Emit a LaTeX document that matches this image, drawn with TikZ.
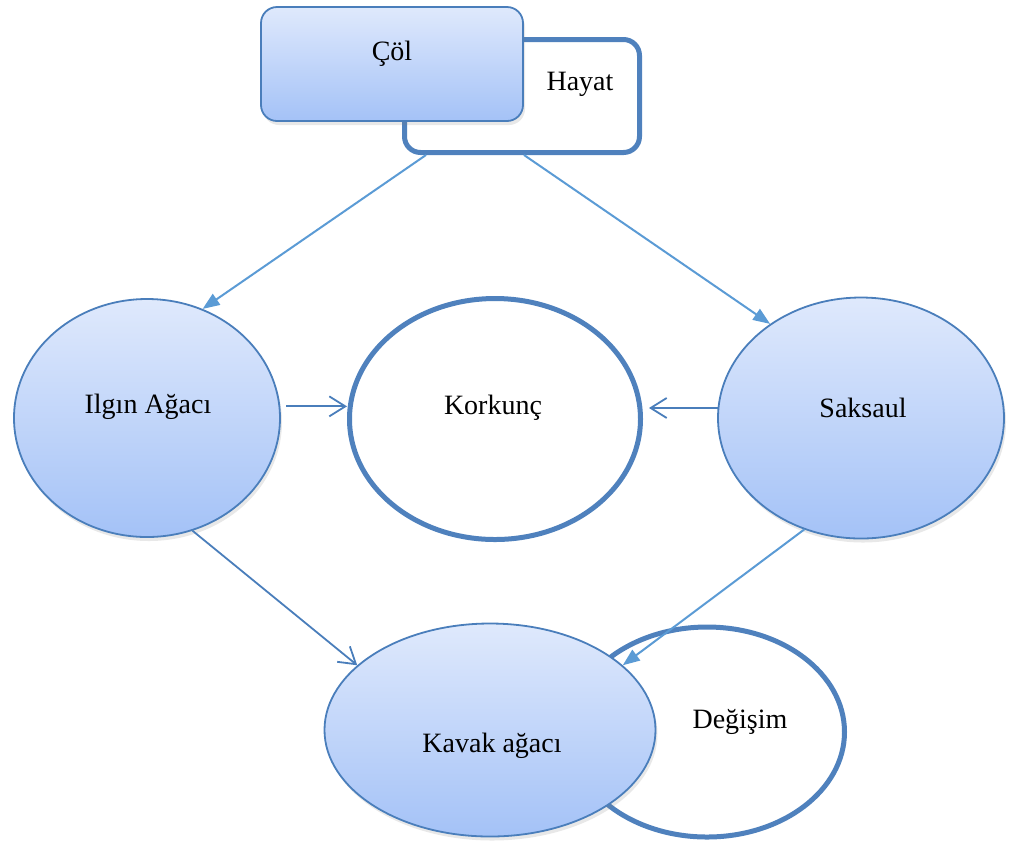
\documentclass[tikz,border=0pt]{standalone}
\usepackage{fontspec}
\setmainfont{Liberation Serif}
\usetikzlibrary{arrows.meta,shapes.geometric,shadows}
\definecolor{edgeblue}{HTML}{4A7EBB}
\definecolor{thickblue}{HTML}{4F81BD}
\definecolor{arrowblue}{HTML}{5B9BD5}
\definecolor{filltop}{HTML}{DFE9FC}
\definecolor{fillbot}{HTML}{A4C2F7}

\begin{document}
\begin{tikzpicture}[x=0.5pt,y=-0.5pt,
  lbl/.style={font=\fontsize{14}{16}\selectfont, inner sep=0pt, anchor=base},
  filled/.style={draw=edgeblue, line width=0.9pt, top color=filltop, bottom color=fillbot,
    drop shadow={shadow xshift=1pt, shadow yshift=-2pt, opacity=0.18}},
  hollow/.style={draw=thickblue, line width=2.5pt, fill=white},
  oval/.style={ellipse, inner sep=0pt},
  box/.style={rectangle, rounded corners=8pt, inner sep=0pt},
  solidarrow/.style={draw=arrowblue, line width=1pt, -{Triangle[length=8.5pt,width=6.5pt]}},
  openarrow/.style={draw=edgeblue, line width=0.9pt, -{Straight Barb[length=8pt,width=10pt]}},
]
\useasboundingbox (0,0) rectangle (1012,843);

% top pair of rounded boxes
\node[box, hollow, minimum width=117.5pt, minimum height=56.5pt] (hayat) at (522,96) {};
\node[box, filled, minimum width=131pt, minimum height=57pt] (col) at (392,64) {};
\node[lbl] (colT) at (392,60) {Çöl};
\node[lbl] (hayatT) at (580,90) {Hayat};

% middle row of ellipses
\node[oval, filled, minimum width=133pt, minimum height=119pt] (ilgin) at (147,418) {};
\node[oval, hollow, minimum width=145.5pt, minimum height=120.5pt] (korkunc) at (495,419) {};
\node[oval, filled, minimum width=143pt, minimum height=120.5pt] (saksaul) at (861,418) {};
\node[lbl] (ilginT) at (148,413) {Ilgın Ağacı};
\node[lbl] (korkuncT) at (493,414) {Korkunç};
\node[lbl] (saksaulT) at (863,417) {Saksaul};

% bottom pair of ellipses
\node[oval, hollow, minimum width=137.5pt, minimum height=105pt] (degisim) at (707,732) {};
\node[oval, filled, minimum width=165.5pt, minimum height=106.5pt] (kavak) at (490,730) {};
\node[lbl] (degisimT) at (740,728) {Değişim};
\node[lbl] (kavakT) at (492,752) {Kavak ağacı};

% connectors
\coordinate (korkR) at ([xshift=3pt]korkunc.east);
\draw[solidarrow] ([xshift=-48pt]hayat.south) -- (ilgin.63);
\draw[solidarrow] ([xshift=1pt]hayat.south) -- (saksaul.134);
\draw[openarrow] ([xshift=3pt]ilgin.5) -- (ilgin.5 -| korkunc.west);
\draw[openarrow] (saksaul.176) -- (saksaul.176 -| korkR);
\draw[openarrow] (ilgin.292) -- (kavak.154);
\draw[solidarrow] (saksaul.243) -- (kavak.26);
\end{tikzpicture}
\end{document}
